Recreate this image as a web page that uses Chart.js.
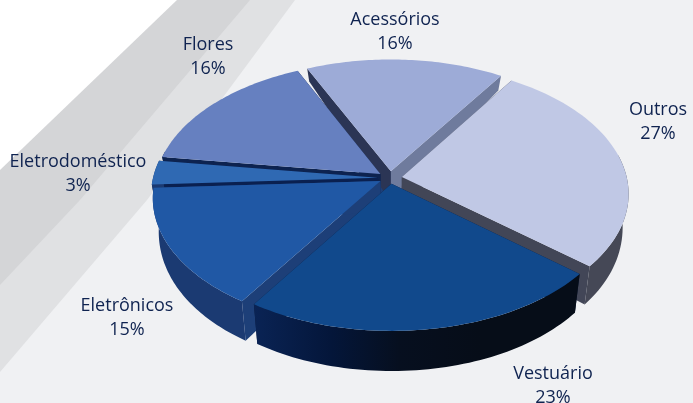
<!DOCTYPE html>
<html>
<head>
<meta charset="utf-8">
<style>
    html, body { margin: 0; padding: 0; background: #f0f1f3; }
    #grafico { display: block; }
</style>
<script src="https://cdn.jsdelivr.net/npm/chart.js@4"></script>
</head>
<body>
<canvas id="grafico" width="693" height="403"></canvas>
<script>
// datos, en el orden de las agujas del reloj
const categorias = ["Outros", "Vestuário", "Eletrônicos", "Eletrodoméstico", "Flores", "Acessórios"];
const porcentajes = [27, 23, 15, 3, 16, 16];

// estilos
const coloresTapa = ["#c0c8e5", "#11498c", "#2058a5", "#2f69b3", "#6680c0", "#9dabd7"];
const coloresLado = ["#454856", "#060d18", "#1b3a72", "#1b3a72", "#0d2350", "#6f7b9d"];
const coloresCorteDer = ["#424657", "#0a1a3a", "#1d3f78", "#0a2050", "#0d2350", "#6f7b9d"];
const coloresCorteIzq = ["#424657", "#0a1a3a", "#1d3f78", "#0a2050", "#0d2350", "#2b3555"];
const separacion = [12, 10, 11, 12, 12, 12];
const posEtiquetas = [[658, 122], [553, 386], [127, 318], [78, 174], [208, 56.5], [395, 31.5]];

// vista 3D
const centroX = 390, centroY = 178, radioPx = 225, inclinacion = 0.566, perspectiva = 0.125;

function proyectar(u, v, abajo) {
    const k = 1 / (1 - perspectiva * v);
    const x = u * radioPx * k;
    const y = centroY + v * radioPx * inclinacion * k;
    if (!abajo) return [centroX + x, y];
    return [centroX + x * 0.975, y + 31.6 + 14 * v - 5.6 * v * v];
}

// solo la parte del arco que mira hacia adelante, la de atras queda tapada
function puntosArco(arco, corr, abajo, soloFrente) {
    const puntos = [];
    const pasos = 60;
    for (let i = 0; i <= pasos; i++) {
        const a = arco.startAngle + (arco.endAngle - arco.startAngle) * i / pasos;
        if (soloFrente && Math.sin(a) < -0.2) continue;
        puntos.push(proyectar(corr.u + Math.cos(a), corr.v + Math.sin(a), abajo));
    }
    return puntos;
}

function trazar(ctx, puntos, color) {
    if (puntos.length < 3) return;
    ctx.beginPath();
    puntos.forEach((p, i) => i ? ctx.lineTo(p[0], p[1]) : ctx.moveTo(p[0], p[1]));
    ctx.closePath();
    ctx.fillStyle = color;
    ctx.fill();
}

const fondoDiagonal = {
    id: "fondoDiagonal",
    beforeDraw(chart) {
        const ctx = chart.ctx;
        trazar(ctx, [[0, 0], [693, 0], [693, 403], [0, 403]], "#f0f1f3");
        trazar(ctx, [[0, 0], [295, 0], [147, 200], [0, 372]], "#e0e1e3");
        trazar(ctx, [[0, 0], [250, 0], [80, 200], [0, 285]], "#d4d5d7");
        trazar(ctx, [[0, 0], [177, 0], [0, 170]], "#ffffff");
    }
};

const pastel3D = {
    id: "pastel3D",
    beforeDatasetsDraw(chart) {
        const ctx = chart.ctx;
        const arcos = chart.getDatasetMeta(0).data;
        const orden = arcos.map((arco, i) => {
            const medio = (arco.startAngle + arco.endAngle) / 2;
            const d = separacion[i] / radioPx;
            const corr = { u: Math.cos(medio) * d, v: Math.sin(medio) * d };
            return { arco, i, corr, fondo: Math.sin(medio) };
        }).sort((a, b) => a.fondo - b.fondo);

        // relleno del centro, para que no se vea el fondo entre los cortes
        const centros = [];
        orden.forEach(({ corr }) => {
            centros.push(proyectar(corr.u, corr.v, false));
            centros.push(proyectar(corr.u, corr.v, true));
        });
        const mx = centros.reduce((s, p) => s + p[0], 0) / centros.length;
        const my = centros.reduce((s, p) => s + p[1], 0) / centros.length;
        centros.sort((a, b) => Math.atan2(a[1] - my, a[0] - mx) - Math.atan2(b[1] - my, b[0] - mx));
        trazar(ctx, centros, "#1d3f78");

        orden.forEach(({ arco, i, corr }) => {
            const centroArriba = proyectar(corr.u, corr.v, false);
            const centroAbajo = proyectar(corr.u, corr.v, true);
            const arriba = puntosArco(arco, corr, false, false);
            const abajo = puntosArco(arco, corr, true, false);

            // cortes radiales
            trazar(ctx, [centroArriba, arriba[0], abajo[0], centroAbajo], coloresCorteIzq[i]);
            trazar(ctx, [centroArriba, arriba[arriba.length - 1], abajo[abajo.length - 1], centroAbajo], coloresCorteDer[i]);

            // lado exterior
            let lado = coloresLado[i];
            if (categorias[i] === "Vestuário") {
                lado = ctx.createLinearGradient(250, 0, 480, 0);
                lado.addColorStop(0, "#0a2456");
                lado.addColorStop(0.35, "#04163a");
                lado.addColorStop(0.65, "#060f1f");
                lado.addColorStop(1, "#060d18");
            }
            const ladoArriba = puntosArco(arco, corr, false, true);
            const ladoAbajo = puntosArco(arco, corr, true, true);
            trazar(ctx, ladoArriba.concat(ladoAbajo.reverse()), lado);

            // tapa
            trazar(ctx, [centroArriba].concat(arriba), arco.options.backgroundColor);
        });
        return false;
    },
    afterDraw(chart) {
        const ctx = chart.ctx;
        ctx.font = "18px 'Open Sans'";
        ctx.fillStyle = "#0f2350";
        ctx.textAlign = "center";
        ctx.textBaseline = "middle";
        categorias.forEach((nombre, i) => {
            const [x, y] = posEtiquetas[i];
            ctx.fillText(nombre, x, y - 12);
            ctx.fillText(porcentajes[i] + "%", x, y + 12);
        });
    }
};

new Chart(document.getElementById("grafico"), {
    type: "pie",
    data: {
        labels: categorias,
        datasets: [{
            data: porcentajes,
            backgroundColor: coloresTapa,
            borderWidth: 0
        }]
    },
    options: {
        responsive: false,
        animation: false,
        rotation: 33,
        plugins: {
            legend: { display: false },
            tooltip: { enabled: false }
        }
    },
    plugins: [fondoDiagonal, pastel3D]
});
</script>
</body>
</html>
